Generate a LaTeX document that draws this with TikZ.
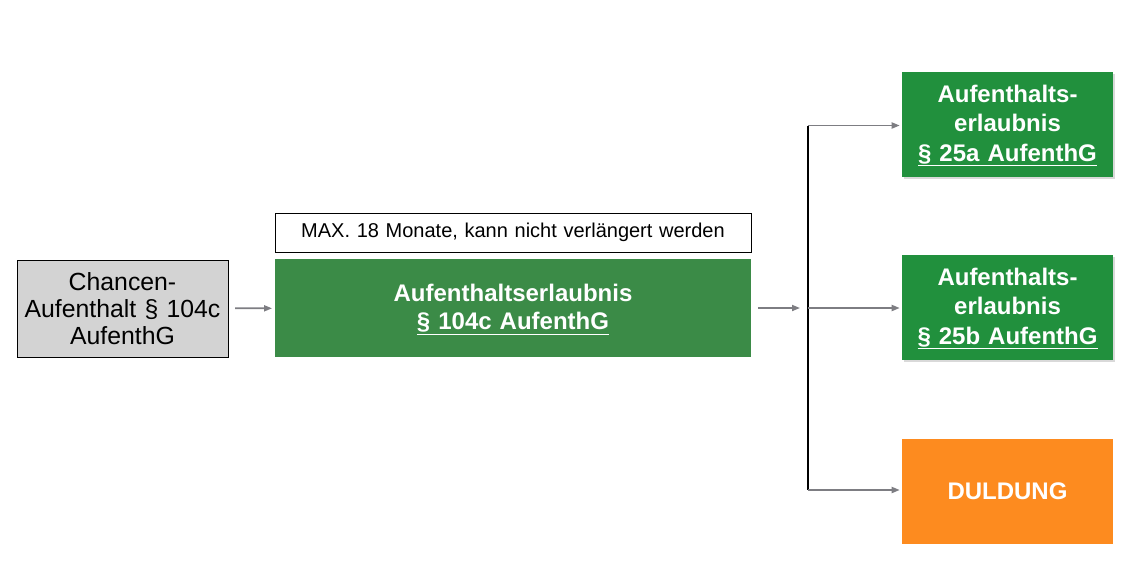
\documentclass[tikz,border=0pt]{standalone}
\usepackage{fontspec}
\setmainfont{Liberation Sans}
\usetikzlibrary{arrows.meta,shadows}
\definecolor{gruenHaupt}{RGB}{59,139,71}
\definecolor{gruenZiel}{RGB}{33,144,61}
\definecolor{orangeZiel}{RGB}{253,139,31}
\definecolor{grauKasten}{RGB}{211,211,211}
\definecolor{grauPfeil}{RGB}{125,125,130}
\begin{document}
\begin{tikzpicture}[x=0.75pt,y=-0.75pt,line cap=butt,line join=miter,
		>={Triangle[length=6pt,width=4.5pt]}]
	\tikzset{kasten/.style={inner sep=0pt,align=center,text width=150pt},
		ziel/.style={kasten,minimum width=158.25pt,minimum height=78.75pt,
			text=white,font=\fontsize{18}{22}\selectfont\bfseries},
		pfeil/.style={->,draw=grauPfeil,line width=1.3pt}}
	\useasboundingbox (0,0) rectangle (1132,586);
	% linke Seite
	\node[kasten,draw=black,line width=0.6pt,fill=grauKasten,minimum width=158.25pt,
		minimum height=72.75pt,font=\fontsize{18.6}{20.3}\selectfont]
		(chancen) at (122.5,308.5) {Chancen-\\Aufenthalt § 104c\\AufenthG};
	\node[kasten,draw=black,line width=0.6pt,fill=white,minimum width=357pt,
		minimum height=29.25pt,text width=350pt,font=\fontsize{15}{18}\selectfont]
		(maximal) at (513,232.5) {MAX. 18 Monate, kann nicht verlängert werden};
	\node[kasten,fill=gruenHaupt,minimum width=357pt,minimum height=73.5pt,
		text width=350pt,text=white,font=\fontsize{18}{21}\selectfont\bfseries]
		(erlaubnis) at (513,308) {\rule{0pt}{16pt}Aufenthaltserlaubnis\\\underline{§ 104c AufenthG}};
	% rechte Seite
	\node[ziel,fill=gruenZiel,drop shadow={opacity=0.3,shadow xshift=1.5pt,shadow yshift=-1.5pt}]
		(zielA) at (1007.5,124.5) {\rule{0pt}{15pt}Aufenthalts-\\erlaubnis\\\underline{§ 25a AufenthG}};
	\node[ziel,fill=gruenZiel,drop shadow={opacity=0.3,shadow xshift=1.5pt,shadow yshift=-1.5pt}]
		(zielB) at (1007.5,307.5) {\rule{0pt}{15pt}Aufenthalts-\\erlaubnis\\\underline{§ 25b AufenthG}};
	\node[ziel,fill=orangeZiel] (duldung) at (1007.5,491) {DULDUNG};
	% Verzweigung
	\coordinate (gabel) at (808,308);
	\coordinate (gabelOben) at (808,125.5);
	\coordinate (gabelUnten) at (808,490);
	\draw[pfeil,shorten <=5pt,shorten >=2pt] (chancen) -- (erlaubnis);
	\draw[pfeil,shorten <=5pt,shorten >=6pt] (erlaubnis) -- (gabel);
	\draw[line width=1.5pt] (gabelOben) -- (gabelUnten);
	\foreach \ziel/\von in {zielA/gabelOben,zielB/gabel,duldung/gabelUnten}{
		\draw[pfeil,shorten >=1.5pt] (\von) -- (\von-|\ziel.west);}
\end{tikzpicture}
\end{document}
